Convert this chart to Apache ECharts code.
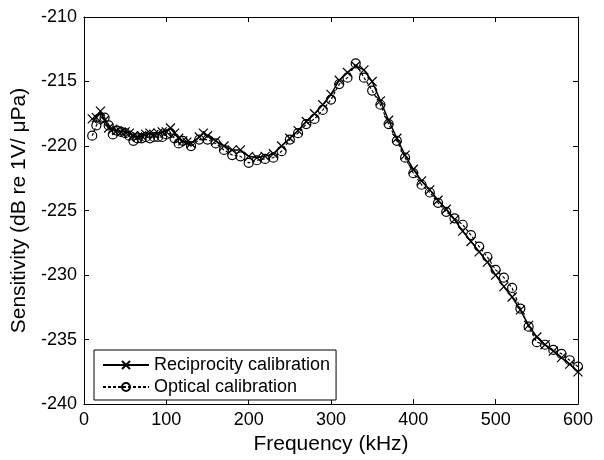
<!DOCTYPE html>
<html><head><meta charset="utf-8">
<script src="https://cdn.jsdelivr.net/npm/echarts@6/dist/echarts.min.js"></script>
<style>html,body{margin:0;padding:0;background:#fff}#c{width:604px;height:460px}</style>
</head><body><div id="c"></div>
<script>
var recFreq = [10,15,20,25,30,35,40,45,50,55,60,65,70,75,80,85,90,95,100,105,110,115,120,125,130,140,145,150,160,170,180,190,200,210,220,230,240,250,260,270,280,290,300,310,320,330,340,350,360,370,380,390,400,410,420,430,440,450,460,470,480,490,500,510,520,530,540,550,560,570,580,590,600];
var recVal = [-217.9,-217.8,-217.3,-218.0,-218.6,-218.7,-218.8,-218.9,-218.9,-219.0,-219.2,-219.3,-219.2,-219.1,-219.0,-219.1,-219.0,-218.9,-218.9,-218.6,-219.0,-219.4,-219.6,-219.7,-219.8,-219.3,-219.0,-219.2,-219.6,-220.0,-220.3,-220.3,-220.8,-220.9,-220.8,-220.6,-220.0,-219.4,-218.8,-218.1,-217.5,-216.8,-216.0,-214.9,-214.3,-213.8,-214.1,-215.0,-216.5,-218.0,-219.4,-220.7,-221.8,-222.7,-223.4,-224.2,-224.9,-225.7,-226.6,-227.4,-228.2,-229.0,-230.0,-230.9,-231.7,-232.7,-233.9,-234.8,-235.4,-235.9,-236.4,-236.9,-237.5];
var optFreq = [10,15,20,25,30,35,40,45,50,55,60,65,70,75,80,85,90,95,100,105,110,115,120,130,140,150,160,170,180,190,200,210,220,230,240,250,260,270,280,290,300,310,320,330,340,350,360,370,380,390,400,410,420,430,440,450,460,470,480,490,500,510,520,530,540,550,560,570,580,590,600];
var optVal = [-219.2,-218.4,-217.9,-217.8,-218.4,-219.1,-218.8,-218.9,-219.0,-219.2,-219.6,-219.4,-219.4,-219.3,-219.4,-219.3,-219.3,-219.3,-219.1,-219.0,-219.4,-219.8,-219.6,-220.0,-219.5,-219.5,-219.8,-220.3,-220.7,-220.8,-221.3,-221.1,-221.0,-220.9,-220.4,-219.5,-219.0,-218.3,-217.9,-217.2,-216.4,-215.2,-214.7,-213.6,-214.7,-215.7,-216.8,-218.3,-219.6,-220.9,-222.1,-223.0,-223.6,-224.4,-225.1,-225.6,-226.1,-226.9,-227.8,-228.6,-229.6,-230.2,-231.0,-232.6,-234.0,-235.2,-235.4,-235.8,-236.1,-236.6,-237.1];
var xTicks = [0,100,200,300,400,500,600];
var yTicks = [-240,-235,-230,-225,-220,-215,-210];
var seriesNames = ['Reciprocity calibration','Optical calibration'];

function pairs(a,b){return a.map(function(v,i){return [v,b[i]];});}
var FONT = 'Liberation Sans, Arial, sans-serif';
var chart = echarts.init(document.getElementById('c'), null, {renderer:'canvas'});
var xCommon = {type:'value', min:xTicks[0], max:xTicks[xTicks.length-1], interval:100, splitLine:{show:false},
  axisLine:{show:true, onZero:false, lineStyle:{color:'#000', width:1}},
  axisTick:{show:true, inside:true, length:5, lineStyle:{color:'#000'}}};
var yCommon = {type:'value', min:yTicks[0], max:yTicks[yTicks.length-1], interval:5, splitLine:{show:false},
  axisLine:{show:true, onZero:false, lineStyle:{color:'#000', width:1}},
  axisTick:{show:true, inside:true, length:5, lineStyle:{color:'#000'}}};
chart.setOption({
  animation:false,
  backgroundColor:'#fff',
  grid:{left:84, right:26, top:17, bottom:53, show:false},
  legend:{
    data:seriesNames, orient:'vertical', left:94, top:350, itemWidth:46, itemHeight:10, itemGap:4,
    borderColor:'#000', borderWidth:1, backgroundColor:'#fff', padding:[6,6,4,8], borderRadius:0,
    textStyle:{fontFamily:FONT, fontSize:18, color:'#000'}
  },
  xAxis:[
    Object.assign({}, xCommon, {position:'bottom', name:'Frequency (kHz)', nameLocation:'middle', nameGap:25,
      nameTextStyle:{fontFamily:FONT, fontSize:21, color:'#000'},
      axisLabel:{fontFamily:FONT, fontSize:18, color:'#000', margin:7}}),
    Object.assign({}, xCommon, {position:'top', axisLabel:{show:false}})
  ],
  yAxis:[
    Object.assign({}, yCommon, {position:'left', name:'Sensitivity (dB re 1V/ \u03bcPa)', nameLocation:'middle', nameGap:46,
      nameTextStyle:{fontFamily:FONT, fontSize:21, color:'#000'},
      axisLabel:{fontFamily:FONT, fontSize:18, color:'#000', margin:7}}),
    Object.assign({}, yCommon, {position:'right', axisLabel:{show:false}})
  ],
  series:[
    {name:seriesNames[0], type:'line', data:pairs(recFreq, recVal), symbol:'path://M0,0L10,10M10,0L0,10', symbolSize:9,
     showSymbol:true, showAllSymbol:true,
     lineStyle:{color:'#000', width:1.5, type:'solid'},
     itemStyle:{color:'rgba(0,0,0,0)', borderColor:'#000', borderWidth:1.2}, z:3},
    {name:seriesNames[1], type:'line', data:pairs(optFreq, optVal), symbol:'circle', symbolSize:9,
     showSymbol:true, showAllSymbol:true,
     lineStyle:{color:'#000', width:1.2, type:[3,2]},
     itemStyle:{color:'rgba(255,255,255,0)', borderColor:'#000', borderWidth:1.2}, z:2}
  ]
});
</script></body></html>
